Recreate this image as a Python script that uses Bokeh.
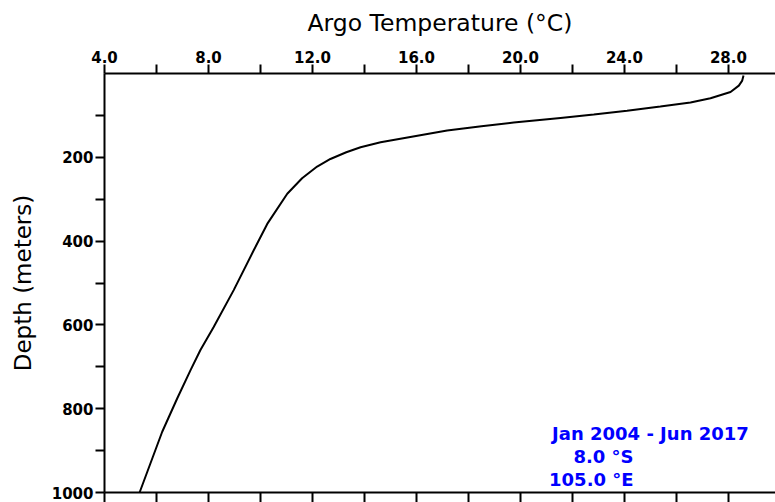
from bokeh.plotting import figure
from bokeh.models import LinearAxis, FixedTicker, Range1d, Label, PrintfTickFormatter
from bokeh.embed import file_html
from bokeh.resources import INLINE

# Data
depth = [5, 17, 29, 44, 59, 69, 79, 89, 98, 106, 117, 126, 136, 164, 176, 188,
         204, 222, 250, 287, 359, 422, 517, 605, 660, 708, 775, 855, 1000]
temp = [28.58, 28.53, 28.4, 28.08, 27.31, 26.54, 25.38, 24.1, 22.82, 21.54, 19.74,
        18.5, 17.18, 14.62, 13.85, 13.3, 12.69, 12.18, 11.6, 11.03, 10.26, 9.74,
        8.97, 8.2, 7.69, 7.31, 6.8, 6.22, 5.35]

x_major = [4, 8, 12, 16, 20, 24, 28]
x_minor = [6, 10, 14, 18, 22, 26, 30]
x_all = [4, 6, 8, 10, 12, 14, 16, 18, 20, 22, 24, 26, 28, 30]
y_major = [200, 400, 600, 800, 1000]
y_minor = [100, 300, 500, 700, 900]

info_lines = ["Jan 2004 - Jun 2017", "8.0 \u00b0S", "105.0 \u00b0E"]

FONT = "DejaVu Sans"

p = figure(width=775, height=502, output_backend="svg", toolbar_location=None,
           x_axis_location="above",
           x_range=Range1d(4, 29.81), y_range=Range1d(1000, 0),
           min_border_left=104, min_border_right=0, min_border_top=73,
           min_border_bottom=10)
p.xgrid.visible = False
p.ygrid.visible = False
p.outline_line_color = None
p.background_fill_color = "white"
p.border_fill_color = "white"

def style_axis(ax):
    ax.axis_line_width = 2
    ax.axis_line_color = "black"
    ax.major_tick_line_width = 2
    ax.minor_tick_line_width = 2
    ax.major_tick_out = 9
    ax.major_tick_in = 0
    ax.minor_tick_out = 9
    ax.minor_tick_in = 0
    ax.major_label_text_font = FONT
    ax.major_label_text_font_style = "bold"
    ax.major_label_text_font_size = "15px"
    ax.major_label_text_color = "black"
    ax.axis_label_text_font = FONT
    ax.axis_label_text_font_style = "normal"
    ax.axis_label_text_font_size = "22.5px"
    ax.axis_label_text_color = "black"

top = p.xaxis[0]
style_axis(top)
top.ticker = FixedTicker(ticks=x_major, minor_ticks=x_minor)
top.formatter = PrintfTickFormatter(format="%.1f")
top.axis_label = "Argo Temperature (\u00b0C)"
top.axis_label_text_font_size = "23.5px"
top.major_label_standoff = 2
top.axis_label_standoff = 11

left = p.yaxis[0]
style_axis(left)
left.ticker = FixedTicker(ticks=y_major, minor_ticks=y_minor)
left.axis_label = "Depth (meters)"
left.axis_label_text_font_size = "23px"
left.major_label_standoff = 2
left.axis_label_standoff = 13

# bottom axis: ticks only (as minor ticks, which carry no labels)
bottom = LinearAxis(ticker=FixedTicker(ticks=[], minor_ticks=x_all))
style_axis(bottom)
bottom.minor_tick_out = 10
p.add_layout(bottom, "below")

p.line(temp, depth, line_width=2, line_color="black")

info_x = [25.0, 24.35, 24.35]
info_y = [858, 915, 970]
info_align = ["center", "right", "right"]
for t, xx, yy, al in zip(info_lines, info_x, info_y, info_align):
    p.add_layout(Label(x=xx, y=yy, text=t, text_font=FONT, text_font_style="bold",
                       text_font_size="18px", text_color="#0000FF",
                       text_align=al, text_baseline="middle"))

open("out.html", "w").write(file_html(p, INLINE))
